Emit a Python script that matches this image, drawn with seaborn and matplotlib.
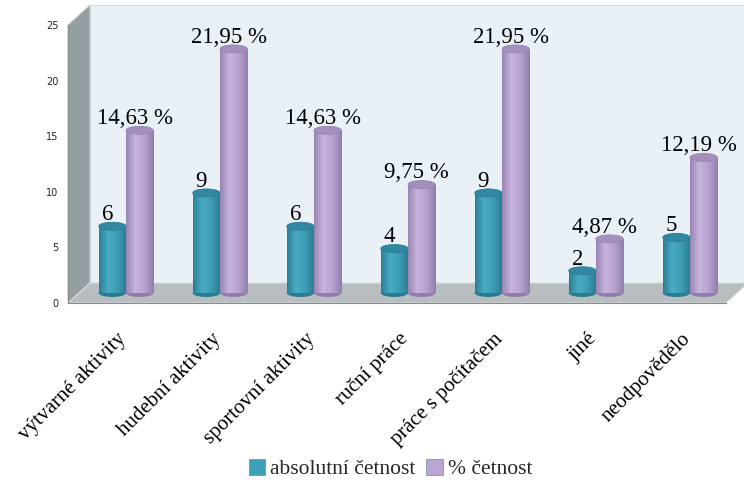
import numpy as np
import pandas as pd
import matplotlib
matplotlib.use("Agg")
import matplotlib.pyplot as plt
import matplotlib.transforms as mtransforms
from matplotlib.patches import Polygon, Ellipse, Patch
from matplotlib.colors import LinearSegmentedColormap
import seaborn as sns

# --- data -------------------------------------------------------------
categories = ["výtvarné aktivity", "hudební aktivity", "sportovní aktivity",
              "ruční práce", "práce s počítačem", "jiné", "neodpovědělo"]
absolute_counts = [6, 9, 6, 4, 9, 2, 5]
percent_counts = [14.63, 21.95, 14.63, 9.75, 21.95, 4.87, 12.19]
series_names = ["absolutní četnost", "% četnost"]
y_ticks = [0, 5, 10, 15, 20, 25]

df = pd.DataFrame({
    "kategorie": categories * 2,
    "hodnota": absolute_counts + percent_counts,
    "série": [series_names[0]] * len(categories) + [series_names[1]] * len(categories),
})
value_labels = ([f"{v}" for v in absolute_counts]
                + [f"{v:.2f}".replace(".", ",") + " %" for v in percent_counts])

# --- styling ----------------------------------------------------------
sns.set_theme(style="white")
plt.rcParams["font.family"] = ["DejaVu Sans"]
SERIF = ["Liberation Serif", "DejaVu Serif"]

teal = "#3d9fb8"
lavender = "#b9a6d2"
shades = {
    teal: ["#2b7f95", "#49acc4", "#3c9cb4", "#2a7a90"],
    lavender: ["#9885b4", "#c6b5dd", "#b6a3cf", "#917dad"],
}
caps = {teal: "#3188a0", lavender: "#a590bd"}

W_PX, H_PX = 744, 488
fig = plt.figure(figsize=(W_PX / 100, H_PX / 100), dpi=100)

# front plane of the 3-D box (value scale), and depth offset in pixels
L, B = 68 / W_PX, 185 / H_PX
W, H = 658 / W_PX, 278 / H_PX
dx, dy = 22 / W_PX, 20 / H_PX
R, T = L + W, B + H

# walls and floor of the box
back_wall = Polygon([(L + dx, B + dy), (L + dx, T + dy), (R + dx, T + dy), (R + dx, B + dy)],
                    closed=True, transform=fig.transFigure, facecolor="#e9f0f6",
                    edgecolor="#d3dbe2", lw=0.8, zorder=-3)
side_wall = Polygon([(L, B), (L, T), (L + dx, T + dy), (L + dx, B + dy)],
                    closed=True, transform=fig.transFigure, facecolor="#959ea2",
                    edgecolor="#c9cfd3", lw=0.8, zorder=-2)
floor = Polygon([(L, B), (L + dx, B + dy), (R + dx, B + dy), (R, B)],
                closed=True, transform=fig.transFigure, facecolor="#b8bdbf",
                edgecolor="#d8dcde", lw=0.8, zorder=-2)
for p in (back_wall, side_wall, floor):
    fig.add_artist(p)

# front axes: scale, ticks and category labels
ax = fig.add_axes([L, B, W, H])
ax.set_facecolor("none")
ax.set_xlim(-0.5, len(categories) - 0.5)
ax.set_ylim(0, 25)
ax.set_yticks(y_ticks)
ax.set_yticklabels([str(t) for t in y_ticks], fontsize=7, color="#222222")
ax.set_xticks(range(len(categories)))
ax.set_xticklabels(categories, rotation=45, ha="right", rotation_mode="anchor",
                   fontsize=15, family=SERIF, color="black")
ax.set_xticks(np.arange(-0.5, len(categories), 1.0), minor=True)
ax.tick_params(axis="x", which="major", length=0, pad=19)
ax.tick_params(axis="x", which="minor", length=6, color="#8a8a8a", width=0.8, direction="out")
ax.tick_params(axis="y", length=4, color="#8a8a8a", width=0.8, direction="out", pad=3)
shift = mtransforms.ScaledTranslation(2 / 100, 0, fig.dpi_scale_trans)
for lbl in ax.get_xticklabels():
    lbl.set_transform(lbl.get_transform() + shift)
for s in ("top", "right"):
    ax.spines[s].set_visible(False)
for s in ("left", "bottom"):
    ax.spines[s].set_color("#8a8a8a")
    ax.spines[s].set_linewidth(0.8)

# bar axes sits half-way into the depth of the box
axb = fig.add_axes([L + dx / 2, B + dy / 2, W, H])
axb.set_facecolor("none")
sns.barplot(data=df, x="kategorie", y="hodnota", hue="série",
            palette=[teal, lavender], width=0.58, saturation=1,
            legend=False, ax=axb)
axb.set_xlim(-0.5, len(categories) - 0.5)
axb.set_ylim(0, 25)
axb.axis("off")

ell_h = 8 * 25 / (H * H_PX)  # cap ellipse height in data units
label_shift = mtransforms.ScaledTranslation(-5 / 100, 0, fig.dpi_scale_trans)
grad = np.linspace(0, 1, 64).reshape(1, -1)
bars = list(axb.patches)
for bar, label in zip(bars, value_labels):
    x0, w, h = bar.get_x(), bar.get_width(), bar.get_height()
    base = matplotlib.colors.to_hex(bar.get_facecolor())
    cmap = LinearSegmentedColormap.from_list("cyl", shades[base])
    cx = x0 + w / 2
    # rounded bottom
    axb.add_patch(Ellipse((cx, 0), w, ell_h, facecolor=shades[base][3],
                          edgecolor="none", zorder=1.5, clip_on=False))
    bar.set_edgecolor("none")
    bar.set_zorder(2)
    im = axb.imshow(grad, cmap=cmap, extent=[x0, x0 + w, 0, h], aspect="auto",
                    zorder=2.1, interpolation="bilinear")
    im.set_clip_path(bar)
    # cylinder top
    axb.add_patch(Ellipse((cx, h), w, ell_h, facecolor=caps[base],
                          edgecolor=shades[base][0], lw=0.6, zorder=3, clip_on=False))
    axb.text(cx, h + ell_h / 2 + 0.2, label, ha="center", va="baseline",
             fontsize=16.5, family=SERIF, color="black", zorder=4,
             transform=axb.transData + label_shift)
axb.set_xlim(-0.5, len(categories) - 0.5)
axb.set_ylim(0, 25)

handles = [Patch(facecolor=c, edgecolor="#6b8a9a", lw=0.5) for c in (teal, lavender)]
fig.legend(handles, series_names, loc="lower center", bbox_to_anchor=(0.525, -0.022),
           ncol=2, frameon=False, prop={"family": SERIF, "size": 15.5},
           handlelength=0.75, handleheight=0.75, handletextpad=0.25, columnspacing=0.5)

fig.savefig("out.png", dpi=100)
